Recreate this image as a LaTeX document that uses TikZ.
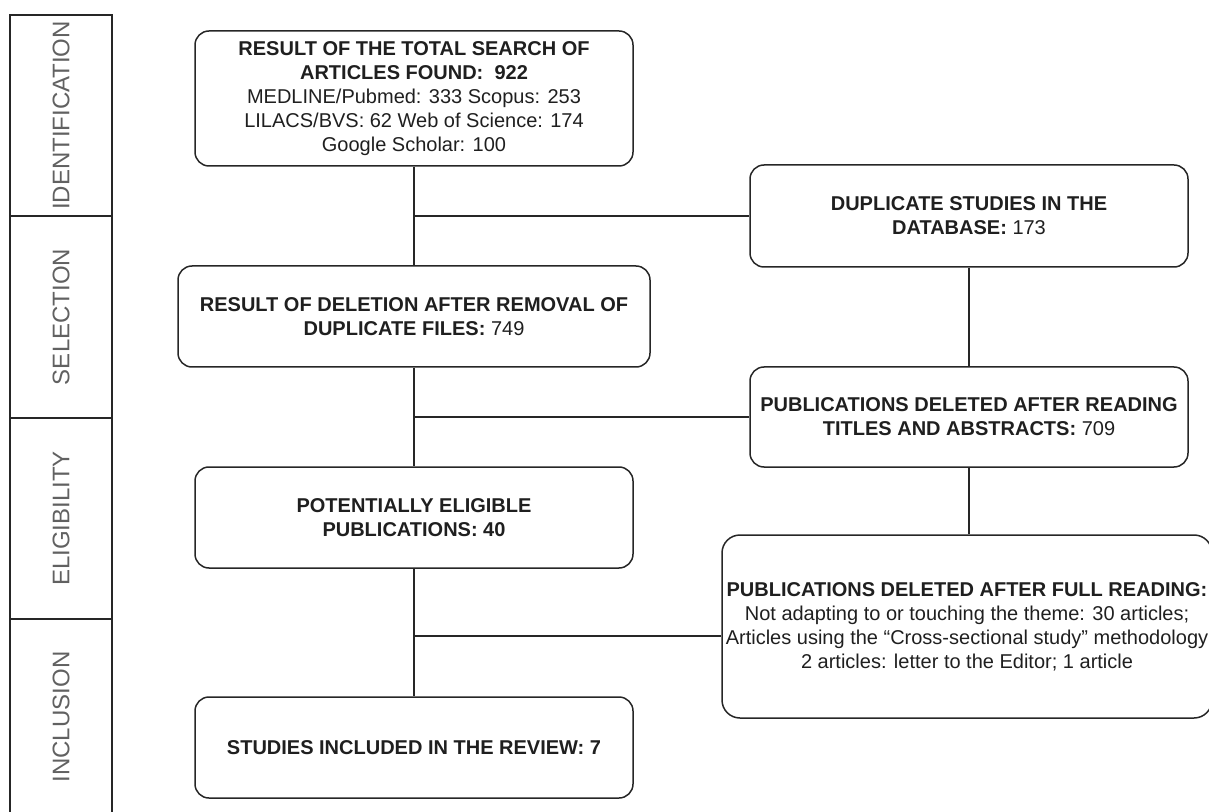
\documentclass[tikz,border=0pt]{standalone}
\usepackage{fontspec}
\setmainfont{Liberation Sans}
\begin{document}
\begin{tikzpicture}[x=0.5pt,y=-0.5pt,
  every node/.style={font=\fontsize{10pt}{12pt}\selectfont, text=black!88},
  stagebox/.style={draw=black!85, line width=0.75pt, rounded corners=7pt, align=center, inner sep=0pt},
  lanelabel/.style={rotate=90, font=\fontsize{12pt}{14pt}\selectfont, text=black!62, inner sep=0pt},
  link/.style={draw=black!85, line width=0.75pt},
  laneline/.style={draw=black!85, line width=0.75pt}]
\useasboundingbox (0,0) rectangle (1209,812);

% lanes
\draw[laneline] (10,812) -- (10,15) -- (112,15) -- (112,812);
\draw[laneline] (10,216) -- (112,216);
\draw[laneline] (10,418) -- (112,418);
\draw[laneline] (10,619) -- (112,619);
\node[lanelabel] (lid) at (61,115.5) {IDENTIFICATION};
\node[lanelabel] (lsel) at (61,317) {SELECTION};
\node[lanelabel] (lel) at (61,518.5) {ELIGIBILITY};
\node[lanelabel] (lin) at (61,717) {INCLUSION};

% main column
\node[stagebox, minimum width=219pt, minimum height=67.5pt] (b1) at (414,98.5)
  {\textbf{RESULT OF THE TOTAL SEARCH OF}\\ \textbf{ARTICLES FOUND:\ \ 922}\\
   MEDLINE/Pubmed: 333 Scopus: 253\\ LILACS/BVS: 62 Web of Science: 174\\ Google Scholar: 100};
\node[stagebox, minimum width=236pt, minimum height=50.5pt] (b2) at (414,316.5)
  {\textbf{RESULT OF DELETION AFTER REMOVAL OF}\\ \textbf{DUPLICATE FILES:} 749};
\node[stagebox, minimum width=219pt, minimum height=50.5pt] (b3) at (414,517.5)
  {\textbf{POTENTIALLY ELIGIBLE}\\ \textbf{PUBLICATIONS: 40}};
\node[stagebox, minimum width=219pt, minimum height=50.5pt] (b4) at (414,747.5)
  {\textbf{STUDIES INCLUDED IN THE REVIEW: 7}};

% right column
\node[stagebox, minimum width=219pt, minimum height=51pt] (dup) at (969,216)
  {\textbf{DUPLICATE STUDIES IN THE}\\ \textbf{DATABASE:} 173};
\node[stagebox, minimum width=219pt, minimum height=50pt] (pubs) at (969,417)
  {\textbf{PUBLICATIONS DELETED AFTER READING}\\ \textbf{TITLES AND ABSTRACTS:} 709};
\node[stagebox, rounded corners=9pt, minimum width=245pt, minimum height=91.5pt] (full) at (967,626.5)
  {\textbf{PUBLICATIONS DELETED AFTER FULL READING:}\\
   Not adapting to or touching the theme: 30 articles;\\
   Articles using the “Cross-sectional study” methodology\\
   2 articles: letter to the Editor; 1 article};

% junctions
\coordinate (j1) at (414,216);
\coordinate (j2) at (414,417);
\coordinate (j3) at (414,636);

% connectors
\draw[link] (b1) -- (b2);
\draw[link] (b2) -- (b3);
\draw[link] (b3) -- (b4);
\draw[link] (j1) -- (dup);
\draw[link] (j2) -- (pubs);
\draw[link] (j3) -- (j3 -| full.west);
\draw[link] (dup) -- (pubs);
\draw[link] (pubs.south) -- (pubs.south |- full.north);
\end{tikzpicture}
\end{document}
